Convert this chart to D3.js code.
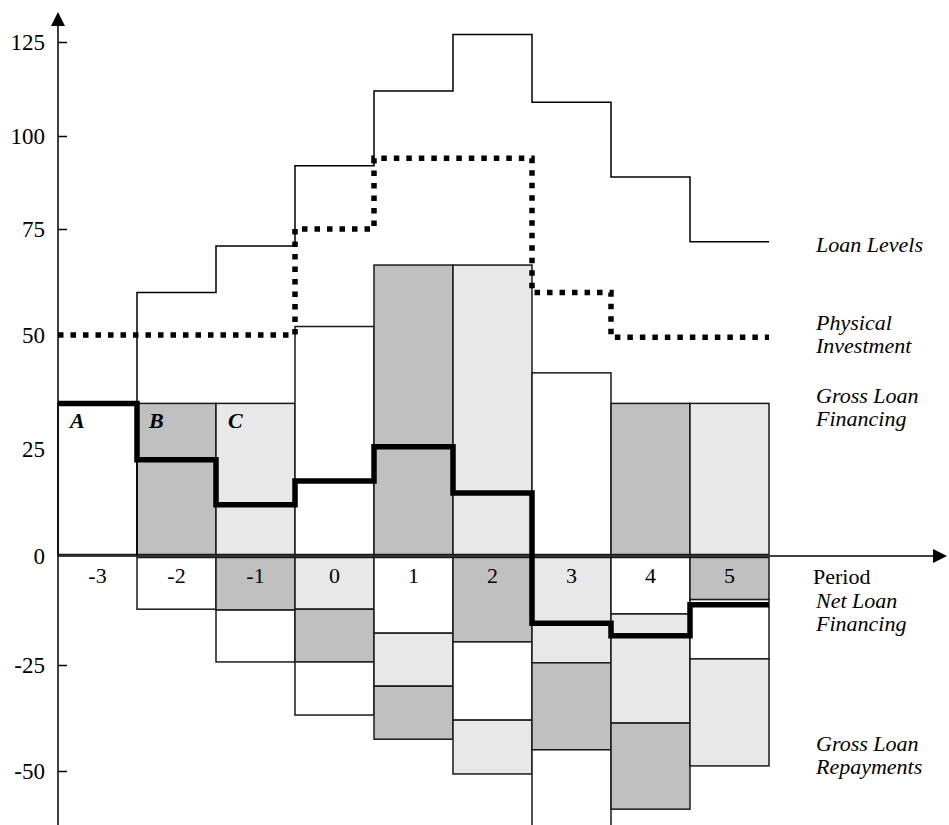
<!DOCTYPE html>
<html>
<head>
<meta charset="utf-8">
<script src="https://cdn.jsdelivr.net/npm/d3@7"></script>
<style>
  body { margin: 0; background: #fff; }
  svg { display: block; }
  text { font-family: "Liberation Serif", "Times New Roman", serif; fill: #000; }
</style>
</head>
<body>
<div class="chart"></div>
<script>
const width = 949;
const height = 825;

// data
const periods = [-3, -2, -1, 0, 1, 2, 3, 4, 5];
const loanLevels = [0, 60, 71, 92, 112, 127, 109, 89, 72];
const physicalInvestment = [50, 50, 50, 75, 94, 94, 60, 49.5, 49.5];
const netLoanFinancing = [35, 22.5, 12, 17.5, 25.5, 14.7, -15.4, -18.3, -11.2];
const grossFinancing = [35, 35, 35, 52, 66.5, 66.5, 41.7, 35, 35];
// repayments in each period: which loan (period of issue) and how much
const repayFrom = [[], [-3], [-2, -3], [-1, -2, -3], [0, -1, -2], [1, 0, -1], [2, 1, 0], [3, 2, 1], [4, 3, 2]];
const repayAmounts = [[], [12.2], [12.4, 11.9], [12.2, 12.1, 12.5], [17.7, 12.3, 12.5],
                      [19.7, 18.3, 12.7], [24.5, 20.5, 20], [13.3, 25.4, 20.3], [10, 13.6, 25.2]];
const yTicks = [-50, -25, 0, 25, 50, 75, 100, 125];
const loanLetters = ["A", "B", "C"];

const svg = d3.select(".chart")
    .append("svg")
    .attr("width", width)
    .attr("height", height)
    .attr("viewBox", [0, 0, width, height]);

const x = d3.scaleLinear().domain([-3.5, 5.5]).range([58, 769]);
// the printed axis is not evenly spaced, so follow its tick positions
const y = d3.scaleLinear()
    .domain([-50, -25, 0, 25, 50, 75, 100, 125])
    .range([771, 665, 556, 449, 335, 229, 136, 42]);

const fills = ["#ffffff", "#c0c0c0", "#e8e8e8"];
const loanFill = p => fills[(p + 3) % 3];

// gross loan financing (above zero)
svg.append("g")
    .selectAll("rect")
    .data(periods)
    .join("rect")
    .attr("x", p => x(p - 0.5))
    .attr("width", p => x(p + 0.5) - x(p - 0.5))
    .attr("y", (p, i) => y(grossFinancing[i]))
    .attr("height", (p, i) => y(0) - 1.5 - y(grossFinancing[i]))
    .attr("fill", p => loanFill(p))
    .attr("stroke", "#1a1a1a")
    .attr("stroke-width", 1.5);

// gross loan repayments (below zero), stacked
let repayRects = [];
periods.forEach((p, i) => {
    let cum = 0;
    repayAmounts[i].forEach((a, j) => {
        repayRects.push({p: p, from: repayFrom[i][j], v0: -cum, v1: -(cum + a)});
        cum += a;
    });
});

svg.append("g")
    .selectAll("rect")
    .data(repayRects)
    .join("rect")
    .attr("x", d => x(d.p - 0.5))
    .attr("width", d => x(d.p + 0.5) - x(d.p - 0.5))
    .attr("y", d => y(d.v0) + (d.v0 === 0 ? 1.5 : 0))
    .attr("height", d => y(d.v1) - y(d.v0) - (d.v0 === 0 ? 1.5 : 0))
    .attr("fill", d => loanFill(d.from))
    .attr("stroke", "#1a1a1a")
    .attr("stroke-width", 1.5);

// step lines
const stepLine = d3.line()
    .x(d => x(d[0]))
    .y(d => y(d[1]))
    .curve(d3.curveStepAfter);
const stepPoints = vals => {
    let pts = periods.map((p, i) => [p - 0.5, vals[i]]);
    pts.push([5.5, vals[vals.length - 1]]);
    return pts;
};

svg.append("path")
    .datum(stepPoints(loanLevels).slice(1))
    .attr("d", d => "M" + x(-2.5) + "," + y(0) + "L" + stepLine(d).slice(1))
    .attr("fill", "none")
    .attr("stroke", "#000")
    .attr("stroke-width", 1.5);

svg.append("path")
    .datum(stepPoints(physicalInvestment))
    .attr("d", stepLine)
    .attr("fill", "none")
    .attr("stroke", "#000")
    .attr("stroke-width", 5.5)
    .attr("stroke-dasharray", "5.5 7");

svg.append("path")
    .datum(stepPoints(netLoanFinancing))
    .attr("d", stepLine)
    .attr("fill", "none")
    .attr("stroke", "#000")
    .attr("stroke-width", 5.5)
    .attr("stroke-linejoin", "miter");

// axes
svg.append("line")
    .attr("x1", x(-3.5)).attr("x2", 935)
    .attr("y1", y(0)).attr("y2", y(0))
    .attr("stroke", "#000").attr("stroke-width", 1.5);
svg.append("path")
    .attr("d", `M947,${y(0)}L933,${y(0) - 7}L933,${y(0) + 7}Z`)
    .attr("fill", "#000");

svg.append("line")
    .attr("x1", x(-3.5)).attr("x2", x(-3.5))
    .attr("y1", 24).attr("y2", height)
    .attr("stroke", "#000").attr("stroke-width", 1.5);
svg.append("path")
    .attr("d", `M${x(-3.5)},12L${x(-3.5) - 7},26L${x(-3.5) + 7},26Z`)
    .attr("fill", "#000");

svg.append("g")
    .attr("transform", `translate(${x(-3.5)},0)`)
    .call(d3.axisLeft(y).tickValues(yTicks).tickSize(10).tickPadding(3).tickFormat(d => String(d)))
    .call(g => g.select(".domain").remove())
    .call(g => g.selectAll(".tick line")
        .attr("stroke-width", 1.5)
        .attr("x2", d => (d === 25 || d === 50) ? 0 : 9)
        .attr("display", d => d === 0 ? "none" : null))
    .call(g => g.selectAll(".tick text")
        .attr("font-size", 23)
        .attr("fill", "#000"));

// period labels
svg.append("g")
    .selectAll("text")
    .data(periods)
    .join("text")
    .attr("x", p => x(p))
    .attr("y", y(0) + 27)
    .attr("text-anchor", "middle")
    .attr("font-size", 22)
    .text(p => String(p));

// A B C loan labels
svg.append("g")
    .selectAll("text")
    .data(loanLetters)
    .join("text")
    .attr("x", (d, i) => x(periods[i] - 0.5) + 12)
    .attr("y", y(35) + 25)
    .attr("font-size", 22)
    .attr("font-weight", "bold")
    .attr("font-style", "italic")
    .text(d => d);

// right-hand labels
const labels = [
    {t: ["Loan Levels"], y: 252, italic: true},
    {t: ["Physical", "Investment"], y: 330, italic: true},
    {t: ["Gross Loan", "Financing"], y: 403, italic: true},
    {t: ["Period"], y: 584, italic: false, dx: -3},
    {t: ["Net Loan", "Financing"], y: 608, italic: true},
    {t: ["Gross Loan", "Repayments"], y: 751, italic: true}
];
labels.forEach(l => {
    const txt = svg.append("text")
        .attr("x", 816 + (l.dx || 0))
        .attr("y", l.y)
        .attr("font-size", 22)
        .attr("font-style", l.italic ? "italic" : "normal");
    l.t.forEach((s, i) => {
        txt.append("tspan")
            .attr("x", 816 + (l.dx || 0))
            .attr("dy", i === 0 ? 0 : 23)
            .text(s);
    });
});
</script>
</body>
</html>
